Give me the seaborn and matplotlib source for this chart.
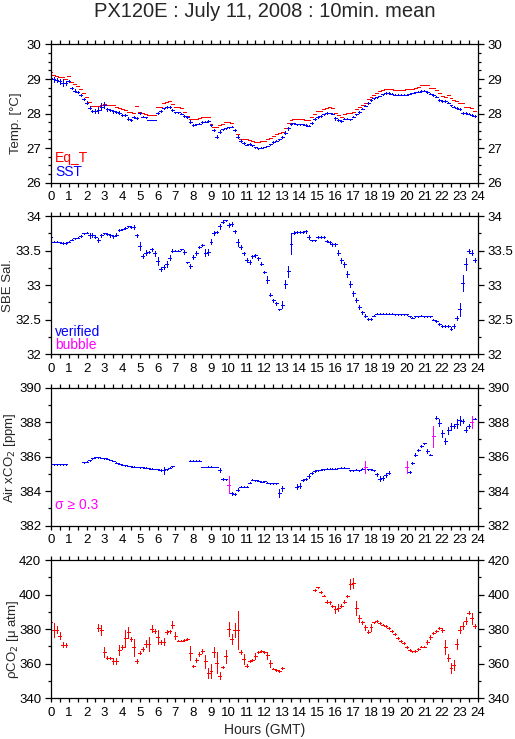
import numpy as np
import matplotlib
matplotlib.use("Agg")
import matplotlib.pyplot as plt
import seaborn as sns
from matplotlib.ticker import MultipleLocator, FuncFormatter

nan = np.nan

# 10-minute time stamps (hours, GMT)
HOURS = np.arange(144) / 6.0
HALF_STEP = 5.0 / 60.0

EQ_T = [
    29.19, 29.11, 29.10, 29.07, 29.05, 29.00,
    29.08, 28.92, 28.85, 28.80, 28.70, 28.60,
    28.47, 28.34, 28.22, 28.22, 28.22, 28.26,
    28.28, 28.26, 28.24, 28.24, 28.20, 28.17,
    28.12, 28.09, 28.06, 28.06, 28.02, 28.22,
    28.06, 28.02, 27.98, 27.95, 27.95, 27.95,
    28.18, 28.20, 28.30, 28.33, 28.36, 28.27,
    28.18, 28.18, 28.15, 28.06, 27.94, 27.83,
    27.83, 27.85, 27.87, 27.89, 27.91, 27.91,
    27.69, 27.62, 27.60, 27.68, 27.70, 27.76,
    27.76, 27.72, 27.52, 27.40, 27.27, 27.25,
    27.27, 27.23, 27.20, 27.18, 27.19, 27.20,
    27.22, 27.25, 27.30, 27.36, 27.40, 27.44,
    27.47, 27.58, 27.72, 27.81, 27.85, 27.83,
    27.83, 27.83, 27.81, 27.81, 27.90, 28.00,
    28.07, 28.07, 28.12, 28.16, 28.18, 28.15,
    28.03, 27.95, 27.91, 27.99, 28.01, 28.01,
    28.06, 28.12, 28.19, 28.24, 28.30, 28.41,
    28.49, 28.55, 28.61, 28.64, 28.67, 28.70,
    28.71, 28.71, 28.68, 28.68, 28.68, 28.68,
    28.70, 28.70, 28.71, 28.75, 28.78, 28.82,
    28.83, 28.83, 28.75, 28.75, 28.68, 28.61,
    28.51, 28.49, 28.53, 28.46, 28.38, 28.35,
    28.30, 28.30, 28.18, 28.18, 28.15, 28.08,
]

SST = [
    29.02, 28.99, 28.97, 28.93, 28.89, 28.89,
    28.95, 28.73, 28.66, 28.63, 28.55, 28.41,
    28.31, 28.17, 28.07, 28.08, 28.10, 28.20,
    28.25, 28.12, 28.10, 28.07, 28.05, 28.03,
    27.96, 27.95, 27.85, 27.81, 27.91, 27.87,
    28.02, 27.91, 27.89, 27.81, 27.81, 27.81,
    28.02, 28.08, 28.15, 28.18, 28.20, 28.10,
    28.04, 28.04, 28.00, 27.94, 27.89, 27.76,
    27.67, 27.69, 27.71, 27.76, 27.77, 27.78,
    27.66, 27.52, 27.33, 27.48, 27.54, 27.57,
    27.60, 27.62, 27.53, 27.33, 27.22, 27.14,
    27.10, 27.12, 27.08, 27.02, 26.99, 27.01,
    27.03, 27.06, 27.11, 27.18, 27.22, 27.25,
    27.33, 27.45, 27.57, 27.69, 27.72, 27.69,
    27.69, 27.69, 27.67, 27.65, 27.74, 27.84,
    27.90, 27.93, 27.98, 28.02, 28.02, 28.00,
    27.86, 27.81, 27.79, 27.85, 27.85, 27.83,
    27.91, 27.98, 28.05, 28.14, 28.23, 28.31,
    28.39, 28.44, 28.47, 28.51, 28.56, 28.60,
    28.60, 28.58, 28.55, 28.55, 28.55, 28.55,
    28.55, 28.58, 28.60, 28.62, 28.63, 28.65,
    28.66, 28.63, 28.58, 28.54, 28.49, 28.39,
    28.36, 28.36, 28.32, 28.24, 28.20, 28.16,
    28.12, 28.02, 28.02, 28.00, 27.96, 27.93,
]

SST_SD = [
    0.12, 0.08, 0.05, 0.07, 0.10, 0.06,
    0.03, 0.03, 0.04, 0.03, 0.03, 0.03,
    0.04, 0.05, 0.03, 0.06, 0.08, 0.10,
    0.08, 0.05, 0.03, 0.04, 0.03, 0.04,
    0.02, 0.03, 0.04, 0.02, 0.03, 0.04,
    0.04, 0.02, 0.02, 0.01, 0.01, 0.01,
    0.02, 0.02, 0.02, 0.03, 0.03, 0.03,
    0.02, 0.01, 0.01, 0.03, 0.03, 0.04,
    0.02, 0.01, 0.01, 0.02, 0.02, 0.02,
    0.03, 0.03, 0.05, 0.05, 0.02, 0.02,
    0.02, 0.02, 0.03, 0.05, 0.03, 0.03,
    0.02, 0.02, 0.02, 0.01, 0.01, 0.01,
    0.01, 0.01, 0.02, 0.02, 0.02, 0.02,
    0.03, 0.04, 0.04, 0.03, 0.02, 0.02,
    0.01, 0.01, 0.02, 0.02, 0.03, 0.02,
    0.02, 0.02, 0.02, 0.02, 0.01, 0.02,
    0.04, 0.03, 0.02, 0.02, 0.01, 0.01,
    0.02, 0.02, 0.02, 0.02, 0.02, 0.02,
    0.02, 0.02, 0.02, 0.01, 0.01, 0.02,
    0.02, 0.01, 0.01, 0.01, 0.01, 0.01,
    0.01, 0.01, 0.01, 0.01, 0.01, 0.02,
    0.02, 0.02, 0.02, 0.02, 0.02, 0.03,
    0.02, 0.02, 0.02, 0.02, 0.02, 0.02,
    0.03, 0.02, 0.02, 0.02, 0.02, 0.02,
]

SAL = [
    33.70, 33.63, 33.63, 33.62, 33.61, 33.61,
    33.63, 33.66, 33.68, 33.69, 33.71, 33.75,
    33.76, 33.72, 33.73, 33.70, 33.65, 33.72,
    33.75, 33.74, 33.72, 33.71, 33.73, 33.80,
    33.81, 33.83, 33.85, 33.84, 33.84, 33.72,
    33.57, 33.42, 33.47, 33.48, 33.52, 33.46,
    33.35, 33.24, 33.26, 33.31, 33.40, 33.50,
    33.50, 33.50, 33.52, 33.48, 33.33, 33.28,
    33.41, 33.46, 33.55, 33.58, 33.47, 33.48,
    33.63, 33.76, 33.77, 33.85, 33.92, 33.94,
    33.87, 33.89, 33.78, 33.62, 33.55, 33.46,
    33.37, 33.34, 33.42, 33.43, 33.39, 33.31,
    33.19, 33.08, 32.86, 32.78, 32.74, 32.65,
    32.72, 33.02, 33.20, 33.60, 33.76, 33.77,
    33.77, 33.77, 33.78, 33.70, 33.65, 33.65,
    33.70, 33.70, 33.70, 33.64, 33.62, 33.59,
    33.59, 33.47, 33.36, 33.30, 33.16, 33.02,
    32.88, 32.78, 32.69, 32.61, 32.56, 32.51,
    32.51, 32.56, 32.59, 32.59, 32.59, 32.59,
    32.59, 32.59, 32.58, 32.58, 32.58, 32.58,
    32.58, 32.55, 32.53, 32.55, 32.55, 32.56,
    32.55, 32.55, 32.55, 32.50, 32.48, 32.44,
    32.41, 32.41, 32.41, 32.37, 32.41, 32.52,
    32.65, 33.03, 33.31, 33.50, 33.47, 33.36,
]

SAL_SD = [
    0.02, 0.01, 0.01, 0.01, 0.01, 0.01,
    0.01, 0.01, 0.01, 0.01, 0.01, 0.01,
    0.01, 0.03, 0.03, 0.02, 0.03, 0.02,
    0.01, 0.01, 0.02, 0.02, 0.02, 0.01,
    0.01, 0.01, 0.01, 0.01, 0.03, 0.02,
    0.06, 0.03, 0.04, 0.02, 0.02, 0.04,
    0.06, 0.03, 0.03, 0.04, 0.03, 0.02,
    0.01, 0.01, 0.01, 0.03, 0.01, 0.03,
    0.03, 0.03, 0.01, 0.02, 0.05, 0.04,
    0.04, 0.03, 0.02, 0.04, 0.02, 0.01,
    0.03, 0.03, 0.02, 0.05, 0.03, 0.02,
    0.03, 0.03, 0.02, 0.02, 0.02, 0.02,
    0.02, 0.05, 0.02, 0.02, 0.02, 0.01,
    0.05, 0.06, 0.08, 0.15, 0.02, 0.01,
    0.01, 0.01, 0.02, 0.03, 0.01, 0.01,
    0.01, 0.01, 0.01, 0.02, 0.02, 0.02,
    0.02, 0.04, 0.04, 0.04, 0.04, 0.04,
    0.03, 0.03, 0.03, 0.02, 0.02, 0.02,
    0.02, 0.01, 0.01, 0.01, 0.01, 0.01,
    0.01, 0.01, 0.01, 0.01, 0.01, 0.01,
    0.01, 0.01, 0.01, 0.01, 0.01, 0.01,
    0.01, 0.01, 0.01, 0.01, 0.01, 0.01,
    0.01, 0.01, 0.01, 0.02, 0.03, 0.03,
    0.09, 0.12, 0.09, 0.03, 0.04, 0.03,
]

XCO2 = [
    385.55, 385.55, 385.55, 385.55, 385.55, 385.55,
    nan, nan, nan, nan, nan, 385.67,
    385.70, 385.78, 385.90, 385.96, 385.96, 385.92,
    385.90, 385.88, 385.80, 385.75, 385.65, 385.60,
    385.53, 385.50, 385.46, 385.44, 385.42, 385.40,
    385.38, 385.38, 385.36, 385.32, 385.30, 385.28,
    385.26, 385.22, 385.20, 385.28, 385.36, 385.44,
    nan, nan, nan, nan, nan, 385.77,
    385.77, 385.77, 385.77, 385.40, 385.40, 385.42,
    385.42, 385.40, 385.40, 385.22, 384.72, 384.70,
    384.37, 383.88, 383.84, 384.08, 384.27, 384.27,
    384.27, 384.50, 384.66, 384.64, 384.60, 384.56,
    384.58, 384.50, 384.47, 384.47, 384.47, 383.90,
    384.17, nan, nan, nan, nan, 384.27,
    384.31, 384.66, 384.72, 384.90, 385.05, 385.15,
    385.20, 385.24, 385.28, 385.30, 385.30, 385.30,
    385.30, 385.34, 385.36, 385.36, 385.34, 385.22,
    385.22, 385.24, 385.22, 385.30, 385.38, 385.28,
    385.27, 385.20, 384.98, 384.72, 384.75, 384.95,
    385.07, nan, nan, nan, nan, nan,
    385.40, 385.09, 385.63, 386.12, 386.40, 386.60,
    386.76, 386.31, 386.12, 387.18, 388.25, 387.96,
    387.34, 386.90, 387.52, 387.77, 387.77, 387.90,
    388.10, 388.06, 387.57, 387.77, 388.02, 388.20,
]

XCO2_SD = [
    0.02, 0.02, 0.02, 0.02, 0.02, 0.02,
    nan, nan, nan, nan, nan, 0.02,
    0.03, 0.03, 0.03, 0.03, 0.02, 0.02,
    0.02, 0.02, 0.02, 0.02, 0.02, 0.02,
    0.02, 0.02, 0.02, 0.02, 0.02, 0.02,
    0.02, 0.02, 0.02, 0.02, 0.02, 0.02,
    0.03, 0.05, 0.20, 0.03, 0.03, 0.03,
    nan, nan, nan, nan, nan, 0.03,
    0.02, 0.02, 0.02, 0.02, 0.02, 0.02,
    0.02, 0.02, 0.02, 0.12, 0.05, 0.03,
    0.50, 0.10, 0.05, 0.08, 0.03, 0.03,
    0.03, 0.05, 0.03, 0.03, 0.03, 0.03,
    0.03, 0.03, 0.03, 0.03, 0.03, 0.25,
    0.15, nan, nan, nan, nan, 0.15,
    0.15, 0.05, 0.05, 0.12, 0.05, 0.05,
    0.03, 0.03, 0.03, 0.02, 0.02, 0.02,
    0.02, 0.02, 0.02, 0.02, 0.02, 0.03,
    0.03, 0.03, 0.03, 0.03, 0.35, 0.03,
    0.03, 0.05, 0.08, 0.15, 0.10, 0.12,
    0.08, nan, nan, nan, nan, nan,
    0.35, 0.05, 0.08, 0.10, 0.05, 0.05,
    0.05, 0.12, 0.05, 0.60, 0.10, 0.20,
    0.20, 0.15, 0.20, 0.20, 0.10, 0.25,
    0.25, 0.10, 0.15, 0.10, 0.35, 0.05,
]

PCO2 = [
    384.4, 379.6, 379.6, 376.3, 370.9, 370.9,
    nan, nan, nan, nan, nan, nan,
    nan, nan, nan, nan, 380.8, 379.6,
    366.7, 363.6, 363.2, 361.6, 361.6, 368.0,
    369.6, 374.8, 378.1, 374.2, 369.6, 361.6,
    366.5, 368.4, 371.5, 371.5, 380.2, 379.0,
    375.4, 372.7, 372.8, 378.3, 378.8, 382.5,
    376.1, 373.4, 373.4, 373.6, 374.2, 366.1,
    358.6, 362.2, 365.7, 367.4, 361.3, 354.5,
    356.0, 366.7, 360.7, 353.1, 358.2, 364.2,
    380.2, 374.2, 379.6, 379.6, 366.7, 362.6,
    358.9, 361.6, 362.2, 364.5, 366.7, 367.4,
    366.9, 364.9, 360.3, 357.2, 356.2, 355.6,
    357.4, nan, nan, nan, nan, nan,
    nan, nan, nan, nan, nan, 402.8,
    404.2, 401.7, 399.5, 396.0, 395.6, 393.5,
    391.6, 392.3, 393.7, 396.0, 399.3, 406.1,
    406.7, 392.5, 386.4, 383.9, 381.2, 378.6,
    381.2, 383.9, 384.8, 383.5, 382.7, 381.9,
    380.6, 379.0, 377.1, 374.8, 373.2, 371.9,
    369.6, 368.0, 367.1, 367.4, 368.6, 369.9,
    369.9, 372.7, 375.4, 377.7, 379.0, 380.6,
    379.6, 369.9, 363.6, 357.4, 359.3, 371.3,
    379.6, 381.9, 385.0, 389.6, 386.2, 381.9,
]

PCO2_SD = [
    3.0, 4.0, 2.0, 2.0, 1.5, 1.0,
    nan, nan, nan, nan, nan, nan,
    nan, nan, nan, nan, 2.0, 3.0,
    3.0, 1.0, 0.5, 2.0, 2.0, 3.0,
    1.0, 5.0, 3.0, 1.0, 5.0, 1.0,
    1.0, 1.0, 2.0, 4.0, 2.0, 1.0,
    4.0, 1.0, 2.0, 1.0, 1.0, 2.0,
    2.0, 0.5, 0.5, 0.5, 0.5, 4.0,
    0.5, 1.0, 1.0, 1.0, 4.0, 3.0,
    4.0, 3.0, 6.0, 2.0, 0.5, 4.0,
    4.0, 3.0, 4.0, 11.0, 1.0, 3.0,
    1.0, 0.5, 0.5, 2.0, 0.5, 0.5,
    0.5, 2.0, 2.0, 0.5, 0.5, 0.5,
    0.5, nan, nan, nan, nan, nan,
    nan, nan, nan, nan, nan, 0.5,
    0.5, 0.5, 0.5, 1.0, 1.0, 0.5,
    2.0, 2.0, 1.0, 1.0, 0.5, 3.0,
    3.0, 4.0, 2.0, 1.0, 1.5, 1.0,
    2.0, 0.5, 0.5, 0.5, 0.5, 0.5,
    0.5, 0.5, 0.5, 0.5, 0.5, 0.5,
    0.5, 0.5, 0.5, 0.5, 0.5, 0.5,
    0.5, 1.0, 1.0, 0.5, 0.5, 0.5,
    1.0, 4.0, 2.0, 3.0, 3.0, 3.0,
    2.0, 2.0, 2.0, 1.0, 3.0, 1.0,
]

XCO2_FLAG_LIMIT = 0.3

BLUE = "#0000ff"
RED = "#ff0000"
MAGENTA = "#ff00ff"

sns.set_style("ticks")
plt.rcParams['font.family'] = ['Liberation Sans', 'DejaVu Sans']
plt.rcParams['axes.linewidth'] = 0.9
plt.rcParams['axes.edgecolor'] = 'black'


def draw_crosses(ax, t, v, err, color):
    """10-minute mean drawn as a cross: bar width = averaging window, height = std."""
    cont = ax.errorbar(t, v, xerr=HALF_STEP, yerr=err, fmt='none', ecolor=color,
                       elinewidth=0.6, capsize=0, clip_on=True)
    for coll in cont.lines[2]:
        coll.set_antialiased(False)


def setup_axis(ax, ylo, yhi, major, minor, ylabel, label_x, label_y):
    ax.set_xlim(0, 24)
    ax.set_ylim(ylo, yhi)
    ax.xaxis.set_major_locator(MultipleLocator(1))
    ax.xaxis.set_minor_locator(MultipleLocator(0.5))
    ax.yaxis.set_major_locator(MultipleLocator(major))
    ax.yaxis.set_minor_locator(MultipleLocator(minor))
    ax.yaxis.set_major_formatter(FuncFormatter(lambda v, p: f"{v:g}"))
    ax.tick_params(axis='both', which='both', direction='out', top=True,
                   right=True, labelright=True, labelsize=9.5, width=0.9,
                   colors='black')
    ax.tick_params(axis='x', which='both', length=3.2, pad=3)
    ax.tick_params(axis='y', which='major', length=4.5, pad=2.5)
    ax.tick_params(axis='y', which='minor', length=2.3)
    for s in ax.spines.values():
        s.set_visible(True)
        s.set_color('black')
    ax.grid(False)
    ax.text(label_x, label_y, ylabel, rotation=90, ha='center', va='center',
            fontsize=9.5, transform=ax.transAxes)


fig = plt.figure(figsize=(5.15, 7.39), dpi=100)
left, width, height = 0.099, 0.8285, 0.187
ax1 = fig.add_axes([left, 0.7528, width, height])
ax2 = fig.add_axes([left, 0.5206, width, height])
ax3 = fig.add_axes([left, 0.2886, width, height])
ax4 = fig.add_axes([left, 0.0551, width, height])

# --- Panel 1: temperatures
draw_crosses(ax1, HOURS, EQ_T, None, RED)
draw_crosses(ax1, HOURS, SST, SST_SD, BLUE)
setup_axis(ax1, 26, 30, 1, 0.25, "Temp. [°C]", -0.083, 0.43)
ax1.text(0.01, 0.18, "Eq_T", color=RED, fontsize=10, transform=ax1.transAxes, va='center')
ax1.text(0.01, 0.077, "SST", color=BLUE, fontsize=10, transform=ax1.transAxes, va='center')

# --- Panel 2: salinity
draw_crosses(ax2, HOURS, SAL, SAL_SD, BLUE)
setup_axis(ax2, 32, 34, 0.5, 0.25, "SBE Sal.", -0.10, 0.50)
ax2.text(0.01, 0.16, "verified", color=BLUE, fontsize=10, transform=ax2.transAxes, va='center')
ax2.text(0.01, 0.068, "bubble", color=MAGENTA, fontsize=10, transform=ax2.transAxes, va='center')

# --- Panel 3: atmospheric xCO2, flagged where std >= 0.3
xco2 = np.array(XCO2)
xco2_sd = np.array(XCO2_SD)
flag = xco2_sd >= XCO2_FLAG_LIMIT
draw_crosses(ax3, HOURS[~flag], xco2[~flag], xco2_sd[~flag], BLUE)
draw_crosses(ax3, HOURS[flag], xco2[flag], xco2_sd[flag], MAGENTA)
setup_axis(ax3, 382, 390, 2, 1, "Air xCO$_2$ [ppm]", -0.096, 0.49)
ax3.text(0.01, 0.15, "σ ≥ 0.3", color=MAGENTA, fontsize=10, transform=ax3.transAxes, va='center')

# --- Panel 4: seawater pCO2
draw_crosses(ax4, HOURS, PCO2, PCO2_SD, RED)
setup_axis(ax4, 340, 420, 20, 10, "ρCO$_2$ [μ atm]", -0.09, 0.43)
ax4.set_xlabel("Hours (GMT)", fontsize=10, labelpad=3)

fig.text(0.515, 0.984, "PX120E : July 11, 2008 : 10min. mean", ha='center',
         va='center', fontsize=14.5)

fig.savefig("out.png", dpi=100)
